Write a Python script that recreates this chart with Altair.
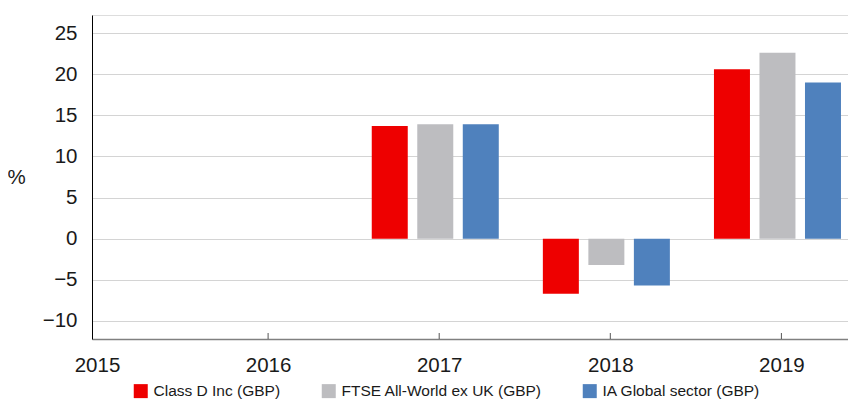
import altair as alt
import pandas as pd

# ---- data ----
years = [2017, 2018, 2019]
series = ["Class D Inc (GBP)", "FTSE All-World ex UK (GBP)", "IA Global sector (GBP)"]
class_d = [13.7, -6.7, 20.6]
ftse_aw = [13.9, -3.2, 22.6]
ia_global = [13.9, -5.7, 19.0]
tick_years = [2015, 2016, 2017, 2018, 2019]
y_ticks = [-10, -5, 0, 5, 10, 15, 20, 25]
colors = ["#EE0000", "#BDBDC0", "#4F81BD"]

rows = []
for i, (name, vals) in enumerate(zip(series, [class_d, ftse_aw, ia_global])):
    for yr, v in zip(years, vals):
        rows.append({"year": yr, "series": name, "idx": i, "value": v})
df = pd.DataFrame(rows)
ticks_df = pd.DataFrame({"year": tick_years[1:]})

W, H = 756, 324
FONT = "Liberation Sans"

xscale = alt.Scale(domain=[2015, 2019.36], nice=False, zero=False)
yscale = alt.Scale(domain=[-12.2, 27.2], nice=False, zero=False)

bars = alt.Chart(df).transform_calculate(
    pos="datum.year - 0.289 + datum.idx * 0.266"
).mark_bar(width=36).encode(
    x=alt.X("pos:Q", scale=xscale,
            axis=alt.Axis(values=tick_years, format="d", title=None, grid=False,
                          ticks=False, domainColor="#808080", domainWidth=1.5,
                          labelFontSize=20.5, labelPadding=16, labelColor="#1a1a1a",
                          labelFont=FONT, labelFlush=False)),
    y=alt.Y("value:Q", scale=yscale,
            axis=alt.Axis(values=y_ticks, title="%", titleAngle=0, titleAlign="center",
                          titleBaseline="middle", titleX=-76, titleY=162,
                          titleFontSize=20.5, titleFontWeight="normal", titleFont=FONT,
                          titleColor="#1a1a1a",
                          ticks=False, domainColor="#000000", domainWidth=1,
                          gridColor="#d4d4d4", gridWidth=1,
                          labelFontSize=20.5, labelPadding=15, labelColor="#1a1a1a",
                          labelFont=FONT)),
    color=alt.Color("series:N", scale=alt.Scale(domain=series, range=colors),
                    legend=alt.Legend(title=None, orient="none", direction="horizontal",
                                      legendX=41, legendY=368,
                                      symbolType="square", symbolSize=196,
                                      symbolStrokeWidth=0, labelFontSize=15.5,
                                      labelFont=FONT, labelColor="#1a1a1a",
                                      labelOffset=5, columnPadding=40, labelLimit=0)),
)

tick_marks = alt.Chart(ticks_df).mark_rule(color="#555555", strokeWidth=1).encode(
    x=alt.X("year:Q", scale=xscale),
    y=alt.value(H - 6),
    y2=alt.value(H),
)

chart = alt.layer(bars, tick_marks).properties(
    width=W, height=H,
    autosize=alt.AutoSizeParams(type="none"),
    padding={"left": 84, "top": 7, "right": 0, "bottom": 63},
).configure_view(stroke=None).configure(background="white")

chart.save("out.html", embed_options={"renderer": "svg", "actions": False})
